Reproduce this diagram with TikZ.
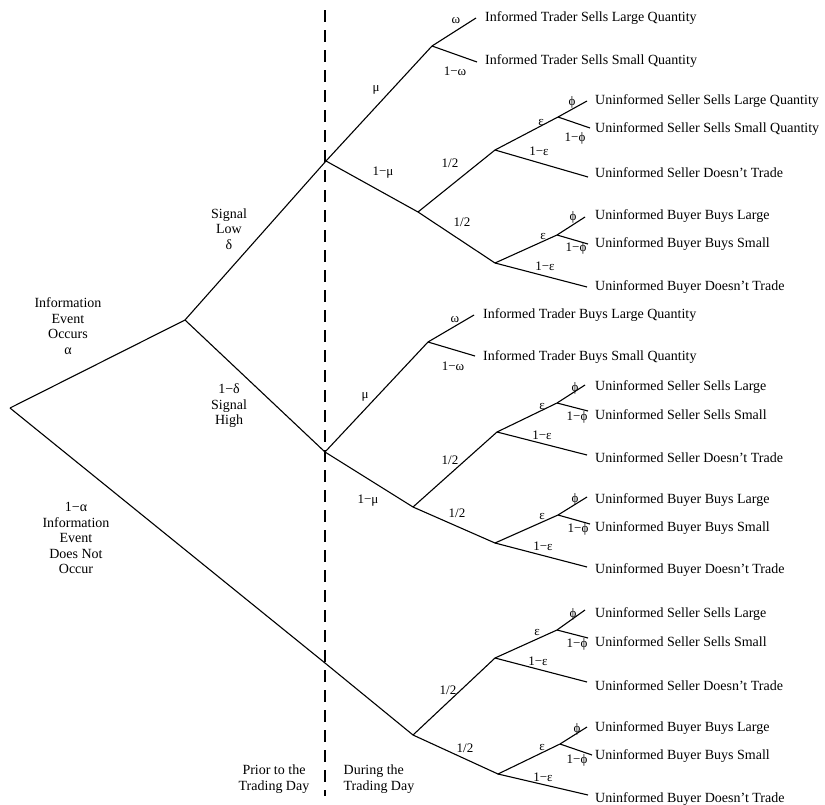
\documentclass[tikz,border=0pt]{standalone}
\usepackage{fontspec}
\setmainfont{Liberation Serif}
\begin{document}
\begin{tikzpicture}[x=1pt,y=-1pt,
  br/.style={line width=1.1pt},
  outtxt/.style={anchor=west,inner sep=0pt,font=\fontsize{14}{16}\selectfont},
  lab/.style={inner sep=0pt,font=\fontsize{13}{14}\selectfont},
  side/.style={inner sep=0pt,align=center,font=\fontsize{14}{15.5}\selectfont},
  divider/.style={line width=1.3pt,dash pattern=on 12pt off 8pt}]
\useasboundingbox (0,0) rectangle (825,804);
\fill[white] (0,0) rectangle (825,804);
% divider
\coordinate (dtop) at (325,10);
\coordinate (dbot) at (325,796);
\draw[divider] (dtop) -- (dbot);
% tree points
\coordinate (r) at (10,408);
\coordinate (a) at (185,320);
\coordinate (L) at (326,161);
\coordinate (H) at (325,452);
\coordinate (N) at (325,663);
\coordinate (IL) at (432,46);
\coordinate (IL1) at (476,18);
\coordinate (IL2) at (477,62);
\coordinate (U1) at (418,212);
\coordinate (S1) at (495,150);
\coordinate (S1e) at (558,117);
\coordinate (S1a) at (587,101);
\coordinate (S1b) at (590,128);
\coordinate (S1c) at (588,177);
\coordinate (B1) at (495,263);
\coordinate (B1e) at (557,235);
\coordinate (B1a) at (585,217);
\coordinate (B1b) at (588,244);
\coordinate (B1c) at (587,287);
\coordinate (IH) at (428,342);
\coordinate (IH1) at (474,315);
\coordinate (IH2) at (475,356);
\coordinate (U2) at (413,507);
\coordinate (S2) at (497,432);
\coordinate (S2e) at (557,403);
\coordinate (S2a) at (585,385);
\coordinate (S2b) at (588,411);
\coordinate (S2c) at (587,455);
\coordinate (B2) at (495,543);
\coordinate (B2e) at (558,515);
\coordinate (B2a) at (587,497);
\coordinate (B2b) at (590,524);
\coordinate (B2c) at (587,567);
\coordinate (U3) at (413,735);
\coordinate (S3) at (495,658);
\coordinate (S3e) at (557,630);
\coordinate (S3a) at (585,610);
\coordinate (S3b) at (588,638);
\coordinate (S3c) at (587,682);
\coordinate (B3) at (498,774);
\coordinate (B3e) at (560,744);
\coordinate (B3a) at (587,727);
\coordinate (B3b) at (592,755);
\coordinate (B3c) at (588,795);
% branches
\draw[br] (r) -- (a);
\draw[br] (a) -- (L);
\draw[br] (a) -- (H);
\draw[br] (r) -- (N) -- (U3);
\draw[br] (L) -- (IL);
\draw[br] (IL) -- (IL1);
\draw[br] (IL) -- (IL2);
\draw[br] (L) -- (U1);
\draw[br] (U1) -- (S1);
\draw[br] (S1) -- (S1e) -- (S1a);
\draw[br] (S1e) -- (S1b);
\draw[br] (S1) -- (S1c);
\draw[br] (U1) -- (B1);
\draw[br] (B1) -- (B1e) -- (B1a);
\draw[br] (B1e) -- (B1b);
\draw[br] (B1) -- (B1c);
\draw[br] (H) -- (IH);
\draw[br] (IH) -- (IH1);
\draw[br] (IH) -- (IH2);
\draw[br] (H) -- (U2);
\draw[br] (U2) -- (S2);
\draw[br] (S2) -- (S2e) -- (S2a);
\draw[br] (S2e) -- (S2b);
\draw[br] (S2) -- (S2c);
\draw[br] (U2) -- (B2);
\draw[br] (B2) -- (B2e) -- (B2a);
\draw[br] (B2e) -- (B2b);
\draw[br] (B2) -- (B2c);
\draw[br] (U3) -- (S3);
\draw[br] (S3) -- (S3e) -- (S3a);
\draw[br] (S3e) -- (S3b);
\draw[br] (S3) -- (S3c);
\draw[br] (U3) -- (B3);
\draw[br] (B3) -- (B3e) -- (B3a);
\draw[br] (B3e) -- (B3b);
\draw[br] (B3) -- (B3c);
% outcome texts
\node[outtxt] (tIL1) at (485,18) {Informed Trader Sells Large Quantity};
\node[outtxt] (tIL2) at (485,61) {Informed Trader Sells Small Quantity};
\node[outtxt] (tS1a) at (595,101) {Uninformed Seller Sells Large Quantity};
\node[outtxt] (tS1b) at (595,129) {Uninformed Seller Sells Small Quantity};
\node[outtxt] (tS1c) at (595,173) {Uninformed Seller Doesn't Trade};
\node[outtxt] (tB1a) at (595,216) {Uninformed Buyer Buys Large};
\node[outtxt] (tB1b) at (595,244) {Uninformed Buyer Buys Small};
\node[outtxt] (tB1c) at (595,287) {Uninformed Buyer Doesn't Trade};
\node[outtxt] (tIH1) at (483,315) {Informed Trader Buys Large Quantity};
\node[outtxt] (tIH2) at (483,357) {Informed Trader Buys Small Quantity};
\node[outtxt] (tS2a) at (595,387) {Uninformed Seller Sells Large};
\node[outtxt] (tS2b) at (595,415) {Uninformed Seller Sells Small};
\node[outtxt] (tS2c) at (595,458) {Uninformed Seller Doesn't Trade};
\node[outtxt] (tB2a) at (595,500) {Uninformed Buyer Buys Large};
\node[outtxt] (tB2b) at (595,528) {Uninformed Buyer Buys Small};
\node[outtxt] (tB2c) at (595,570) {Uninformed Buyer Doesn't Trade};
\node[outtxt] (tS3a) at (595,614) {Uninformed Seller Sells Large};
\node[outtxt] (tS3b) at (595,642) {Uninformed Seller Sells Small};
\node[outtxt] (tS3c) at (595,686) {Uninformed Seller Doesn't Trade};
\node[outtxt] (tB3a) at (595,728) {Uninformed Buyer Buys Large};
\node[outtxt] (tB3b) at (595,756) {Uninformed Buyer Buys Small};
\node[outtxt] (tB3c) at (595,799) {Uninformed Buyer Doesn't Trade};
% branch labels
\node[lab] (lwL) at (456,21) {ω};
\node[lab] (lwL2) at (455,71) {1−ω};
\node[lab] (lmuL) at (376,90) {μ};
\node[lab] (lmuL2) at (383,173) {1−μ};
\node[lab] (lhS1) at (450,163) {1/2};
\node[lab] (lhB1) at (462,222) {1/2};
\node[lab] (lfS1) at (572,102) {ϕ};
\node[lab] (leS1) at (541,122) {ε};
\node[lab] (lfS1b) at (575,138) {1−ϕ};
\node[lab] (leS1b) at (539,151) {1−ε};
\node[lab] (lfB1) at (573,217) {ϕ};
\node[lab] (leB1) at (543,236) {ε};
\node[lab] (lfB1b) at (576,248) {1−ϕ};
\node[lab] (leB1b) at (545,266) {1−ε};
\node[lab] (lwH) at (455,320) {ω};
\node[lab] (lwH2) at (453,366) {1−ω};
\node[lab] (lmuH) at (365,397) {μ};
\node[lab] (lmuH2) at (368,501) {1−μ};
\node[lab] (lhS2) at (450,460) {1/2};
\node[lab] (lhB2) at (457,513) {1/2};
\node[lab] (lfS2) at (575,388) {ϕ};
\node[lab] (leS2) at (542,406) {ε};
\node[lab] (lfS2b) at (577,417) {1−ϕ};
\node[lab] (leS2b) at (542,435) {1−ε};
\node[lab] (lfB2) at (575,499) {ϕ};
\node[lab] (leB2) at (542,516) {ε};
\node[lab] (lfB2b) at (578,529) {1−ϕ};
\node[lab] (leB2b) at (543,546) {1−ε};
\node[lab] (lhS3) at (448,690) {1/2};
\node[lab] (lhB3) at (465,748) {1/2};
\node[lab] (lfS3) at (573,614) {ϕ};
\node[lab] (leS3) at (537,632) {ε};
\node[lab] (lfS3b) at (577,644) {1−ϕ};
\node[lab] (leS3b) at (538,661) {1−ε};
\node[lab] (lfB3) at (577,729) {ϕ};
\node[lab] (leB3) at (542,747) {ε};
\node[lab] (lfB3b) at (577,760) {1−ϕ};
\node[lab] (leB3b) at (543,777) {1−ε};
% side labels
\node[side] (sA) at (68,326) {Information\\Event\\Occurs\\α};
\node[side] (sL) at (229,229) {Signal\\Low\\δ};
\node[side] (sH) at (229,406) {1−δ\\Signal\\High};
\node[side] (sN) at (76,538) {1−α\\Information\\Event\\Does Not\\Occur};
\node[side] (prior) at (274,779) {Prior to the\\Trading Day};
\node[side,align=left] (during) at (379,779) {During the\\Trading Day};
\end{tikzpicture}
\end{document}
